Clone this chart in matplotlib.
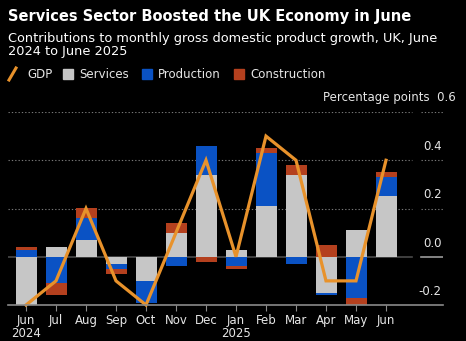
import matplotlib
matplotlib.use("Agg")
import matplotlib.pyplot as plt
from matplotlib.lines import Line2D
from matplotlib.patches import Rectangle
import numpy as np

months = ["Jun\n2024", "Jul", "Aug", "Sep", "Oct", "Nov", "Dec", "Jan\n2025",
          "Feb", "Mar", "Apr", "May", "Jun"]
services = [-0.20, 0.04, 0.07, -0.03, -0.10, 0.10, 0.34, 0.03, 0.21, 0.34, -0.15, 0.11, 0.25]
production = [0.03, -0.11, 0.09, -0.02, -0.09, -0.04, 0.12, -0.04, 0.22, -0.03, -0.01, -0.17, 0.08]
construction = [0.01, -0.05, 0.04, -0.02, 0.0, 0.04, -0.02, -0.01, 0.02, 0.04, 0.05, -0.03, 0.02]
gdp = [-0.20, -0.10, 0.20, -0.10, -0.20, 0.10, 0.40, 0.0, 0.50, 0.40, -0.10, -0.10, 0.40]

BG = "black"
C_GDP = "#E8922B"
C_SERV = "#C6C6C6"
C_PROD = "#0A52C4"
C_CONS = "#B4401E"
TXT = "#E6E6E6"

W, H = 466, 341
fig = plt.figure(figsize=(W / 100, H / 100), dpi=100, facecolor=BG)
plt.rcParams["font.family"] = "DejaVu Sans"

ax = fig.add_axes([8 / W, (H - 305) / H, (443 - 8) / W, (305 - 112) / H])
ax.set_facecolor(BG)
xmin, xmax = -0.6, 13.9
ax.set_xlim(xmin, xmax)
ax.set_ylim(-0.2, 0.6)

# gridlines, split to leave a gap before the value labels
split_a, split_b = 12.85, 13.15
for y in [0.2, 0.4, 0.6]:
    ax.plot([xmin, split_a], [y, y], color="#777777", lw=0.8, ls=(0, (1.2, 1.8)), zorder=0)
    ax.plot([split_b, xmax], [y, y], color="#777777", lw=0.8, ls=(0, (1.2, 1.8)), zorder=0)
ax.plot([xmin, split_a], [0, 0], color="#4a4a4a", lw=1.2, zorder=1)
ax.plot([split_b, xmax], [0, 0], color="#9a9a9a", lw=1.2, zorder=1)

x = np.arange(len(months))
pos = np.zeros(len(months))
neg = np.zeros(len(months))
for vals, col in [(services, C_SERV), (production, C_PROD), (construction, C_CONS)]:
    v = np.array(vals)
    bottom = np.where(v >= 0, pos, neg)
    ax.bar(x, v, 0.7, bottom=bottom, color=col, zorder=2, linewidth=0)
    pos = pos + np.where(v >= 0, v, 0)
    neg = neg + np.where(v < 0, v, 0)

ax.plot(x, gdp, color=C_GDP, lw=2.3, zorder=3, solid_joinstyle="miter", clip_on=False)

for s in ["top", "left", "right"]:
    ax.spines[s].set_visible(False)
ax.spines["bottom"].set_color("#8a8a8a")
ax.spines["bottom"].set_linewidth(1.2)
ax.spines["bottom"].set_zorder(4)

ax.set_xticks(x)
ax.set_xticklabels(months, color=TXT, fontsize=8.5, linespacing=0.95)
ax.tick_params(axis="x", length=4, width=0.8, color="#8a8a8a", pad=2.5)
ax.set_yticks([])

for y in [-0.2, 0.0, 0.2, 0.4]:
    ax.text(xmax - 0.05, y + 0.03, f"{y:.1f}", color=TXT, fontsize=8.5,
            ha="right", va="bottom")

fig.text(456 / W, 1 - 98 / H, "Percentage points  0.6", color=TXT, fontsize=8.5,
         ha="right", va="center")

fig.text(8 / W, 1 - 16 / H, "Services Sector Boosted the UK Economy in June",
         color="white", fontsize=10.5, fontweight="bold", va="center")
fig.text(8 / W, 1 - 45 / H,
         "Contributions to monthly gross domestic product growth, UK, June\n2024 to June 2025",
         color="white", fontsize=9.3, va="center", linespacing=1.05)

# legend drawn by hand
ly = 1 - 74 / H
fig.add_artist(Line2D([9 / W, 16 / W], [1 - 80 / H, 1 - 68 / H], color=C_GDP, lw=2.2,
                      transform=fig.transFigure))
fig.text(27 / W, ly, "GDP", color=TXT, fontsize=8.5, va="center")
for x0, col, lab in [(63, C_SERV, "Services"), (142, C_PROD, "Production"),
                     (234, C_CONS, "Construction")]:
    fig.add_artist(Rectangle((x0 / W, 1 - 79 / H), 10 / W, 10 / H, color=col,
                             transform=fig.transFigure))
    fig.text((x0 + 16) / W, ly, lab, color=TXT, fontsize=8.5, va="center")

fig.savefig("out.png", dpi=100, facecolor=BG)
